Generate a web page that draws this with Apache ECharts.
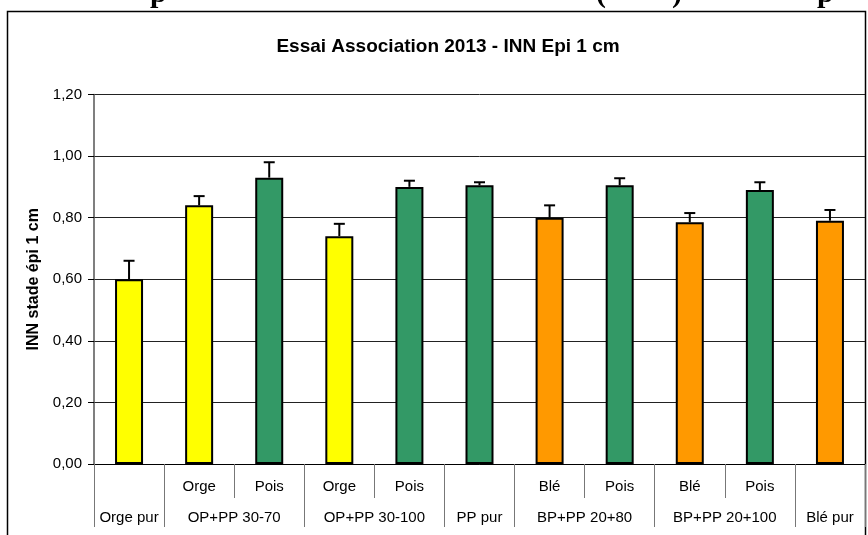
<!DOCTYPE html>
<html>
<head>
<meta charset="utf-8">
<script src="https://cdn.jsdelivr.net/npm/echarts@6/dist/echarts.min.js"></script>
<style>
  html, body { margin: 0; padding: 0; background: #ffffff; }
  #chart { width: 868px; height: 535px; }
</style>
</head>
<body>
<div id="chart"></div>
<script>
// Crop name under each bar (first label row)
const cropLabels = ['', 'Orge', 'Pois', 'Orge', 'Pois', '', 'Blé', 'Pois', 'Blé', 'Pois', ''];
// Treatment groups (second label row) and how many bars each one spans
const groupNames = ['Orge pur', 'OP+PP 30-70', 'OP+PP 30-100', 'PP pur', 'BP+PP 20+80', 'BP+PP 20+100', 'Blé pur'];
const groupSizes = [1, 2, 2, 1, 2, 2, 1];
// Species of each bar (drives the fill colour)
const species = ['orge', 'orge', 'pois', 'orge', 'pois', 'pois', 'ble', 'pois', 'ble', 'pois', 'ble'];
// INN at the "épi 1 cm" stage and its standard error
const innValues = [0.60, 0.84, 0.93, 0.74, 0.90, 0.905, 0.80, 0.905, 0.785, 0.89, 0.79];
const innErrors = [0.06, 0.03, 0.05, 0.04, 0.02, 0.01, 0.04, 0.023, 0.03, 0.025, 0.035];

const speciesColors = { orge: '#FFFF00', pois: '#339966', ble: '#FF9900' };
const FONT = '"Liberation Sans", Arial, sans-serif';

// Second-level axis: one point on every bar edge and bar centre (2n+1 points),
// group names sit on the centre of their span, long dividers on group edges.
const nBars = cropLabels.length;
const groupPoints = new Array(2 * nBars + 1).fill('');
const groupEdges = new Set([0]);
let start = 0;
groupNames.forEach((name, g) => {
  const size = groupSizes[g];
  groupPoints[2 * start + size] = name;
  start += size;
  groupEdges.add(2 * start);
});

const chart = echarts.init(document.getElementById('chart'), null, { renderer: 'canvas' });

chart.setOption({
  animation: false,
  backgroundColor: '#ffffff',
  title: {
    text: 'Essai Association 2013 - INN Epi 1 cm',
    left: 443,
    top: 32,
    textAlign: 'center',
    textStyle: { fontFamily: FONT, fontSize: 19, fontWeight: 'bold', color: '#000' }
  },
  grid: { left: 94, right: 3, top: 94.5, bottom: 71, containLabel: false },
  xAxis: [
    {
      type: 'category',
      data: cropLabels,
      position: 'bottom',
      axisLine: { show: true, lineStyle: { color: '#000', width: 1 } },
      axisTick: { show: true, interval: 0, length: 34, lineStyle: { color: '#777', width: 1 } },
      axisLabel: { interval: 0, margin: 15, fontFamily: FONT, fontSize: 15, color: '#000' },
      splitLine: { show: false }
    },
    {
      type: 'category',
      data: groupPoints,
      boundaryGap: false,
      position: 'bottom',
      axisLine: { show: false },
      axisTick: {
        show: true,
        interval: (i) => groupEdges.has(i),
        length: 63,
        lineStyle: { color: '#777', width: 1 }
      },
      axisLabel: { interval: 0, margin: 46, fontFamily: FONT, fontSize: 15, color: '#000' },
      splitLine: { show: false }
    }
  ],
  yAxis: {
    type: 'value',
    min: 0,
    max: 1.2,
    interval: 0.2,
    name: 'INN stade épi 1 cm',
    nameLocation: 'middle',
    nameGap: 51,
    nameTextStyle: { fontFamily: FONT, fontSize: 16, fontWeight: 'bold', color: '#000' },
    axisLine: { show: true, lineStyle: { color: '#555', width: 1.5 } },
    axisTick: { show: true, length: 6, lineStyle: { color: '#000' } },
    axisLabel: {
      margin: 12,
      fontFamily: FONT,
      fontSize: 15,
      color: '#000',
      formatter: (v) => v.toFixed(2).replace('.', ',')
    },
    splitLine: { show: true, lineStyle: { color: '#222', width: 1 } }
  },
  series: [
    {
      type: 'bar',
      xAxisIndex: 0,
      barWidth: 28,
      data: innValues.map((v, i) => ({
        value: v,
        itemStyle: { color: speciesColors[species[i]] }
      })),
      itemStyle: { borderColor: '#000', borderWidth: 2 },
      z: 2
    },
    {
      type: 'custom',
      xAxisIndex: 0,
      z: 3,
      data: innValues.map((v, i) => [i, v, innErrors[i]]),
      renderItem: (params, api) => {
        const idx = api.value(0);
        const v = api.value(1);
        const e = api.value(2);
        const base = api.coord([idx, v]);
        const top = api.coord([idx, v + e]);
        const style = { stroke: '#000', lineWidth: 2 };
        return {
          type: 'group',
          children: [
            { type: 'line', shape: { x1: base[0], y1: base[1], x2: top[0], y2: top[1] }, style },
            { type: 'line', shape: { x1: top[0] - 5.5, y1: top[1], x2: top[0] + 5.5, y2: top[1] }, style }
          ]
        };
      }
    }
  ],
  graphic: [
    // Outer frame of the chart
    {
      type: 'rect',
      shape: { x: 7.5, y: 11.5, width: 858, height: 540 },
      style: { fill: 'none', stroke: '#000', lineWidth: 1.5 },
      silent: true,
      z: 0
    },
    // Heading line above the frame, only its lower part lies on the page
    { type: 'text', left: 150, top: -21, style: { text: 'p', font: 'bold 30px "Liberation Serif", serif', fill: '#000' }, silent: true },
    { type: 'text', left: 596, top: -21, style: { text: '(', font: 'bold 30px "Liberation Serif", serif', fill: '#000' }, silent: true },
    { type: 'text', left: 672, top: -21, style: { text: ')', font: 'bold 30px "Liberation Serif", serif', fill: '#000' }, silent: true },
    { type: 'text', left: 817, top: -21, style: { text: 'p', font: 'bold 30px "Liberation Serif", serif', fill: '#000' }, silent: true }
  ]
});
</script>
</body>
</html>
